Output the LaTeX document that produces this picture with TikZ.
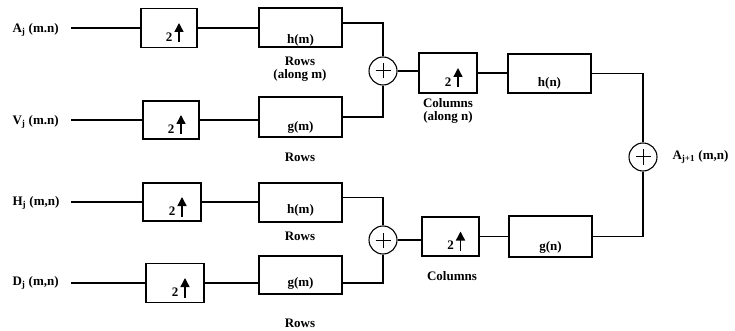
\documentclass[tikz,border=0pt]{standalone}
\usepackage{fontspec}
\setmainfont{Liberation Serif}
\usetikzlibrary{arrows.meta}
\newcommand\UpBox[5]{%
  \node[blk, minimum width=#4, minimum height=#5] (#1) at (#2,#3) {};
  \node[lbl] (#1t) at ([yshift=-9pt]#1.center) {2};
  \draw[-{Triangle[length=9pt,width=9pt]}, line width=1.4pt]
    ([xshift=10pt,yshift=-14.5pt]#1.center) -- ([xshift=10pt,yshift=5pt]#1.center);
}
\newcommand\FiltBox[6]{%
  \node[blk, minimum width=83pt, minimum height=#4] (#1) at (#2,#3) {};
  \node[lbl] (#1t) at ([yshift=-#5]#1.center) {#6};
}
\begin{document}
\begin{tikzpicture}[x=1pt,y=-1pt, line width=1.1pt,
  blk/.style={draw, rectangle, inner sep=0pt},
  lbl/.style={font=\fontsize{13}{13.5}\selectfont\bfseries, inner sep=0pt},
  sum/.style={draw, circle, minimum size=28pt, inner sep=0pt,
    path picture={\draw[line width=1pt]
      ([xshift=-7.5pt]path picture bounding box.center) -- ([xshift=7.5pt]path picture bounding box.center)
      ([yshift=-7.5pt]path picture bounding box.center) -- ([yshift=7.5pt]path picture bounding box.center);}},
]
\useasboundingbox (0,0) rectangle (735,331);

% input labels
\node[lbl, anchor=west] (la) at (12,30) {A\textsubscript{j} (m.n)};
\node[lbl, anchor=west] (lv) at (12,122) {V\textsubscript{j} (m.n)};
\node[lbl, anchor=west] (lh) at (12,203) {H\textsubscript{j} (m,n)};
\node[lbl, anchor=west] (ld) at (12,283) {D\textsubscript{j} (m,n)};
\coordinate (s1) at (71,28);
\coordinate (s2) at (71,120);
\coordinate (s3) at (71,202);
\coordinate (s4) at (71,283);

% upsamplers along rows
\UpBox{u1}{169}{28}{56pt}{39pt}
\UpBox{u2}{171}{120}{56pt}{38pt}
\UpBox{u3}{172}{202}{58pt}{38pt}
\UpBox{u4}{175}{283}{58pt}{39pt}

% row filters
\FiltBox{h1}{300.5}{27.5}{39pt}{13pt}{h(m)}
\FiltBox{g1}{300.5}{117}{40pt}{10pt}{g(m)}
\FiltBox{h2}{300.5}{202.5}{39pt}{8pt}{h(m)}
\FiltBox{g2}{300.5}{275}{38pt}{8pt}{g(m)}

% captions
\node[lbl, align=center] (r1) at (300,69) {Rows\\(along m)};
\node[lbl] (r2) at (300,157) {Rows};
\node[lbl] (r3) at (300,236) {Rows};
\node[lbl] (r4) at (300,323) {Rows};
\node[lbl, align=center] (cc1) at (448,111) {Columns\\(along n)};
\node[lbl] (cc2) at (452,276) {Columns};

% adders
\node[sum] (c1) at (383,71) {};
\node[sum] (c2) at (383,240) {};
\node[sum] (c3) at (643,157) {};

% column stage
\UpBox{u5}{448}{73}{58pt}{40pt}
\FiltBox{f5}{549.5}{73.5}{39pt}{9.5pt}{h(n)}
\UpBox{u6}{450.5}{236.5}{57pt}{39pt}
\FiltBox{f6}{550.5}{236.5}{41pt}{10.5pt}{g(n)}

\node[lbl, anchor=west] (out) at (672,157) {A\textsubscript{j+1} (m,n)};

% connectors
\draw (s1) -- (u1);
\draw (s2) -- (u2);
\draw (s3) -- (u3);
\draw (s4) -- (u4);
\draw (u1.east) -- (u1.east -| h1.west);
\draw (u2.east) -- (u2.east -| g1.west);
\draw (u3.east) -- (u3.east -| h2.west);
\draw (u4.east) -- (u4.east -| g2.west);
\draw ([yshift=4.5pt]h1.east) -| (c1.north);
\draw (g1.east) -| (c1.south);
\draw ([yshift=5pt]h2.east) -| (c2.north);
\draw ([yshift=-8pt]g2.east) -| (c2.south);
\draw (c1.east) -- (c1.east -| u5.west);
\draw (u5.east) -- (u5.east -| f5.west);
\draw (c2.east) -- (c2.east -| u6.west);
\draw (u6.east) -- (u6.east -| f6.west);
\draw (f5.east) -| (c3.north);
\draw (f6.east) -| (c3.south);
\end{tikzpicture}
\end{document}
